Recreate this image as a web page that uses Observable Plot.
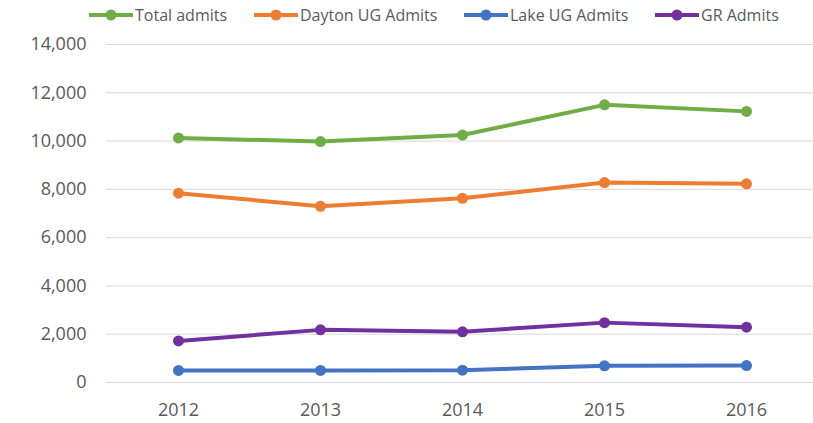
<!DOCTYPE html>
<html>
<head>
<meta charset="utf-8">
<script src="https://cdn.jsdelivr.net/npm/d3@7"></script>
<script src="https://cdn.jsdelivr.net/npm/@observablehq/plot@0.6"></script>
<style>
  html, body { margin: 0; padding: 0; background: #fff; }
  body { width: 813px; height: 423px; overflow: hidden; font-family: "Open Sans", sans-serif; }
  #legend { position: relative; height: 30px; width: 813px; }
  .item { position: absolute; top: 0; height: 30px; display: flex; align-items: center; font-size: 16px; color: #595959; }
  .item svg { display: block; margin-right: 2px; }
</style>
</head>
<body>
<div id="legend"></div>
<div id="chart"></div>
<script>
const years = ["2012", "2013", "2014", "2015", "2016"];
const seriesNames = ["Total admits", "Dayton UG Admits", "Lake UG Admits", "GR Admits"];
const totalAdmits = [10130, 9980, 10250, 11500, 11230];
const daytonUG = [7840, 7300, 7630, 8280, 8230];
const lakeUG = [500, 500, 510, 690, 700];
const grAdmits = [1720, 2180, 2100, 2480, 2290];
const colors = ["#70AD47", "#ED7D31", "#4472C4", "#7030A0"];
const yTicks = [0, 2000, 4000, 6000, 8000, 10000, 12000, 14000];

const valuesBySeries = [totalAdmits, daytonUG, lakeUG, grAdmits];
const data = [];
seriesNames.forEach((s, i) => {
  years.forEach((y, j) => data.push({series: s, year: y, value: valuesBySeries[i][j]}));
});

// Legend
const legendLeft = [89, 254, 464, 655];
const legend = document.getElementById("legend");
seriesNames.forEach((s, i) => {
  const div = document.createElement("div");
  div.className = "item";
  div.style.left = legendLeft[i] + "px";
  div.innerHTML = `<svg width="44" height="14"><line x1="0" x2="44" y1="7" y2="7" stroke="${colors[i]}" stroke-width="4"/><circle cx="22" cy="7" r="5.5" fill="${colors[i]}"/></svg><span>${s}</span>`;
  legend.appendChild(div);
});

const chart = Plot.plot({
  width: 813,
  height: 393,
  marginLeft: 106,
  marginRight: 0,
  marginTop: 14,
  marginBottom: 41,
  style: {fontFamily: "'Open Sans', sans-serif", fontSize: "18px", color: "#595959", background: "#fff"},
  x: {type: "point", domain: years, range: [177, 746], padding: 0, label: null},
  y: {domain: [0, 14000], label: null},
  color: {domain: seriesNames, range: colors},
  marks: [
    Plot.gridY(yTicks, {stroke: "#D9D9D9", strokeOpacity: 1, strokeWidth: 1}),
    Plot.axisY(yTicks, {tickSize: 0, tickPadding: 20, tickFormat: d3.format(","), fill: "#595959", label: null}),
    Plot.axisX({tickSize: 0, tickPadding: 21, fill: "#595959", label: null}),
    Plot.line(data, {x: "year", y: "value", stroke: "series", strokeWidth: 4, strokeLinejoin: "round", strokeLinecap: "round"}),
    Plot.dot(data, {x: "year", y: "value", fill: "series", r: 5.5, stroke: null})
  ]
});
document.getElementById("chart").appendChild(chart);
</script>
</body>
</html>
